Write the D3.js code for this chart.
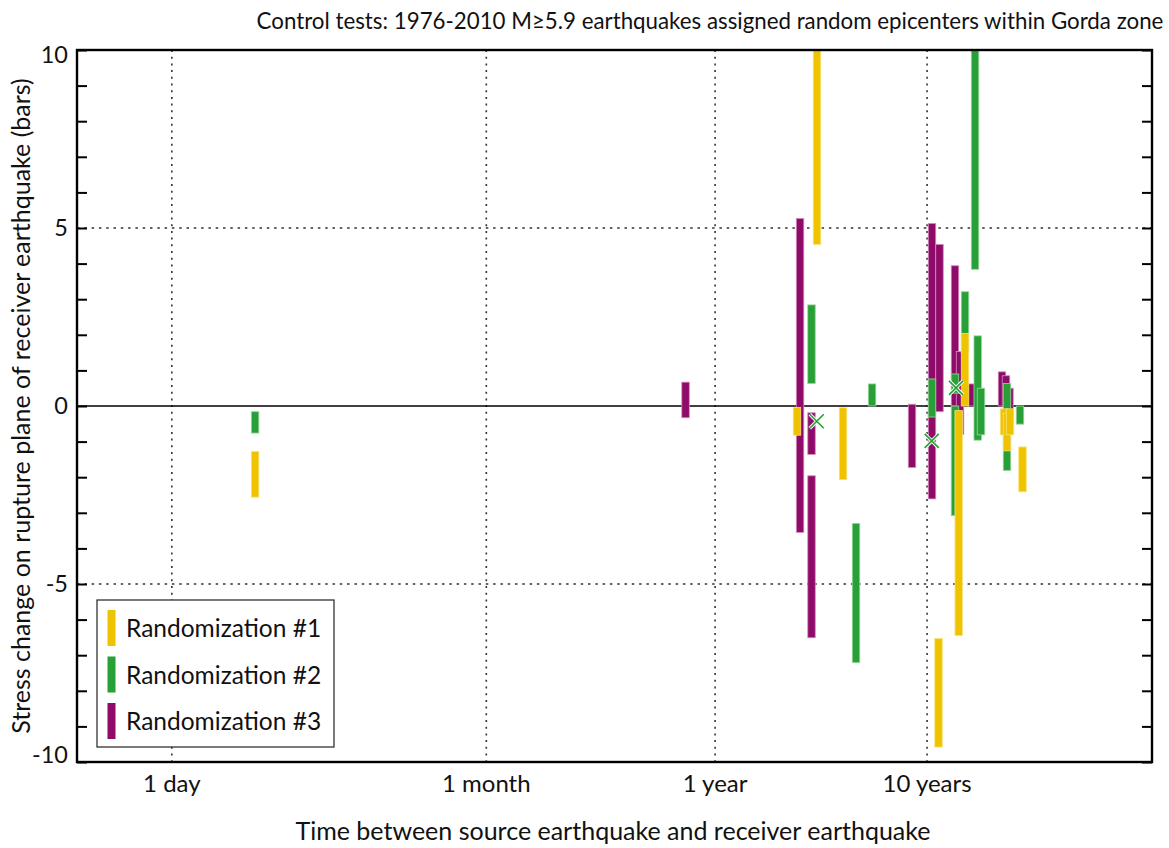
<!DOCTYPE html>
<html>
<head>
<meta charset="utf-8">
<script src="https://cdn.jsdelivr.net/npm/d3@7"></script>
<style>
  body { margin: 0; background: #fff; }
  text { font-family: Lato, "Open Sans", sans-serif; fill: #111; }
</style>
</head>
<body>
<svg id="chart"></svg>
<script>
// each bar: [days between source and receiver, top of range (bars), bottom of range (bars)]
const rand1 = [
  [2.47, -1.28, -2.56],
  [889, -0.04, -0.82],
  [1105, 10, 4.54],
  [1466, -0.05, -2.07],
  [4135, -6.53, -9.58],
  [5150, -0.13, -6.45],
  [5515, 2.04, 0],
  [8424, -0.08, -0.81],
  [8702, -0.2, -1.26],
  [8993, -0.08, -0.81],
  [10297, -1.15, -2.41]
];
const rand2 = [
  [2.47, -0.16, -0.76],
  [1041, 2.84, 0.63],
  [1688, -3.3, -7.21],
  [2009, 0.62, 0],
  [3853, 0.76, -0.31],
  [4946, 0.9, 0.36],
  [4946, 0, -3.08],
  [5515, 3.21, 1.5],
  [6149, 10, 3.84],
  [6331, 1.97, -0.96],
  [6561, 0.5, -0.81],
  [8702, 0.63, -1.81],
  [10021, 0, -0.51]
];
const rand3 = [
  [265, 0.67, -0.33],
  [919, 5.27, -3.55],
  [1041, -0.19, -1.36],
  [1041, -1.96, -6.51],
  [3101, 0.05, -1.73],
  [3853, 5.13, -2.61],
  [4180, 4.54, -0.16],
  [4946, 3.94, 0],
  [5224, 1.53, -0.8],
  [5887, 0.62, 0],
  [8241, 0.96, 0],
  [8608, 0.85, 0],
  [8940, 0.5, -0.3]
];
// green crosses: [days, stress]
const crosses = [[1102, -0.43], [3841, -0.98], [5000, 0.51]];

const seriesNames = ["Randomization #1", "Randomization #2", "Randomization #3"];
const seriesColors = ["#f0c300", "#29a037", "#8f0b69"];
const seriesEdges = ["#f8e27a", "#9ad5a0", "#d490bd"];

const timeTicks = [1, 30.44, 365.25, 3652.5];
const timeLabels = ["1 day", "1 month", "1 year", "10 years"];
const stressLabels = [-10, -5, 0, 5, 10];

const width = 1169, height = 848;
const margin = {left: 77, right: 17, top: 50, bottom: 86};

const svg = d3.select("#chart")
    .attr("width", width)
    .attr("height", height);

const x = d3.scaleLog()
    .domain([0.357, 42030])
    .range([margin.left, width - margin.right]);

const y = d3.scaleLinear()
    .domain([-10, 10])
    .range([height - margin.bottom, margin.top]);

const x0 = margin.left, x1 = width - margin.right;
const y0 = margin.top, y1 = height - margin.bottom;

// dotted grid
svg.append("g")
    .selectAll("line")
    .data(timeTicks)
    .join("line")
    .attr("x1", d => x(d)).attr("x2", d => x(d))
    .attr("y1", y0).attr("y2", y1)
    .attr("stroke", "#333")
    .attr("stroke-width", 1.6)
    .attr("stroke-dasharray", "2,4.7");

svg.append("g")
    .selectAll("line")
    .data([-5, 5])
    .join("line")
    .attr("x1", x0).attr("x2", x1)
    .attr("y1", d => y(d)).attr("y2", d => y(d))
    .attr("stroke", "#333")
    .attr("stroke-width", 1.6)
    .attr("stroke-dasharray", "2.5,4.8");

// zero line
svg.append("line")
    .attr("x1", x0).attr("x2", x1)
    .attr("y1", y(0)).attr("y2", y(0))
    .attr("stroke", "#000")
    .attr("stroke-width", 1.5);

// bars, drawn #3 first so #1 ends on top (as in the original)
const barW = 7.5;
[rand3, rand2, rand1].forEach((series, k) => {
  const i = 2 - k;
  svg.append("g")
      .selectAll("rect")
      .data(series)
      .join("rect")
      .attr("x", d => x(d[0]) - barW / 2)
      .attr("width", barW)
      .attr("y", d => y(d[1]))
      .attr("height", d => y(d[2]) - y(d[1]))
      .attr("fill", seriesColors[i])
      .attr("stroke", seriesEdges[i])
      .attr("stroke-width", 0.8);
});

// crosses
const cs = 7;
const crossPath = d => {
  const cx = x(d[0]), cy = y(d[1]);
  return `M${cx - cs},${cy - cs}L${cx + cs},${cy + cs}M${cx - cs},${cy + cs}L${cx + cs},${cy - cs}`;
};
svg.append("g").selectAll("path").data(crosses).join("path")
    .attr("d", crossPath).attr("stroke", "#fff").attr("stroke-width", 3.5).attr("fill", "none");
svg.append("g").selectAll("path").data(crosses).join("path")
    .attr("d", crossPath).attr("stroke", seriesColors[1]).attr("stroke-width", 1.6).attr("fill", "none");

// frame with inward ticks on both sides
const yAxisL = d3.axisRight(y).ticks(20).tickSize(10).tickFormat("");
const yAxisR = d3.axisLeft(y).ticks(20).tickSize(10).tickFormat("");
svg.append("g").attr("transform", `translate(${x0},0)`).call(yAxisL)
    .call(g => g.select(".domain").remove())
    .selectAll("line").attr("stroke", "#000").attr("stroke-width", 2);
svg.append("g").attr("transform", `translate(${x1},0)`).call(yAxisR)
    .call(g => g.select(".domain").remove())
    .selectAll("line").attr("stroke", "#000").attr("stroke-width", 2);

svg.append("rect")
    .attr("x", x0).attr("y", y0)
    .attr("width", x1 - x0).attr("height", y1 - y0)
    .attr("fill", "none")
    .attr("stroke", "#000")
    .attr("stroke-width", 2.4);

// tick labels
svg.append("g")
    .selectAll("text")
    .data(stressLabels)
    .join("text")
    .attr("x", x0 - 9)
    .attr("y", d => Math.min(Math.max(y(d), y0 + 5), y1 - 7))
    .attr("dy", "0.35em")
    .attr("text-anchor", "end")
    .attr("font-size", 23.5)
    .text(d => d);

svg.append("g")
    .selectAll("text")
    .data(timeTicks)
    .join("text")
    .attr("x", d => x(d))
    .attr("y", y1 + 30)
    .attr("text-anchor", "middle")
    .attr("font-size", 24)
    .text((d, i) => timeLabels[i]);

// titles
svg.append("text")
    .attr("x", 710).attr("y", 29)
    .attr("text-anchor", "middle")
    .attr("font-size", 22.3)
    .text("Control tests: 1976-2010 M\u22655.9 earthquakes assigned random epicenters within Gorda zone");

svg.append("text")
    .attr("x", 613).attr("y", 840)
    .attr("text-anchor", "middle")
    .attr("font-size", 25)
    .text("Time between source earthquake and receiver earthquake");

svg.append("text")
    .attr("transform", `translate(30,${(y0 + y1) / 2}) rotate(-90)`)
    .attr("text-anchor", "middle")
    .attr("font-size", 25)
    .text("Stress change on rupture plane of receiver earthquake (bars)");

// legend
const legend = svg.append("g").attr("transform", `translate(${x0 + 20},${y1 - 162})`);
legend.append("rect")
    .attr("width", 237).attr("height", 147)
    .attr("fill", "#fff")
    .attr("stroke", "#222")
    .attr("stroke-width", 1.2);
seriesNames.forEach((name, i) => {
  legend.append("rect")
      .attr("x", 10.5).attr("y", 10 + i * 46.5)
      .attr("width", 8).attr("height", 36)
      .attr("fill", seriesColors[i]);
  legend.append("text")
      .attr("x", 29).attr("y", 37 + i * 46.5)
      .attr("font-size", 24.5)
      .text(name);
});
</script>
</body>
</html>
